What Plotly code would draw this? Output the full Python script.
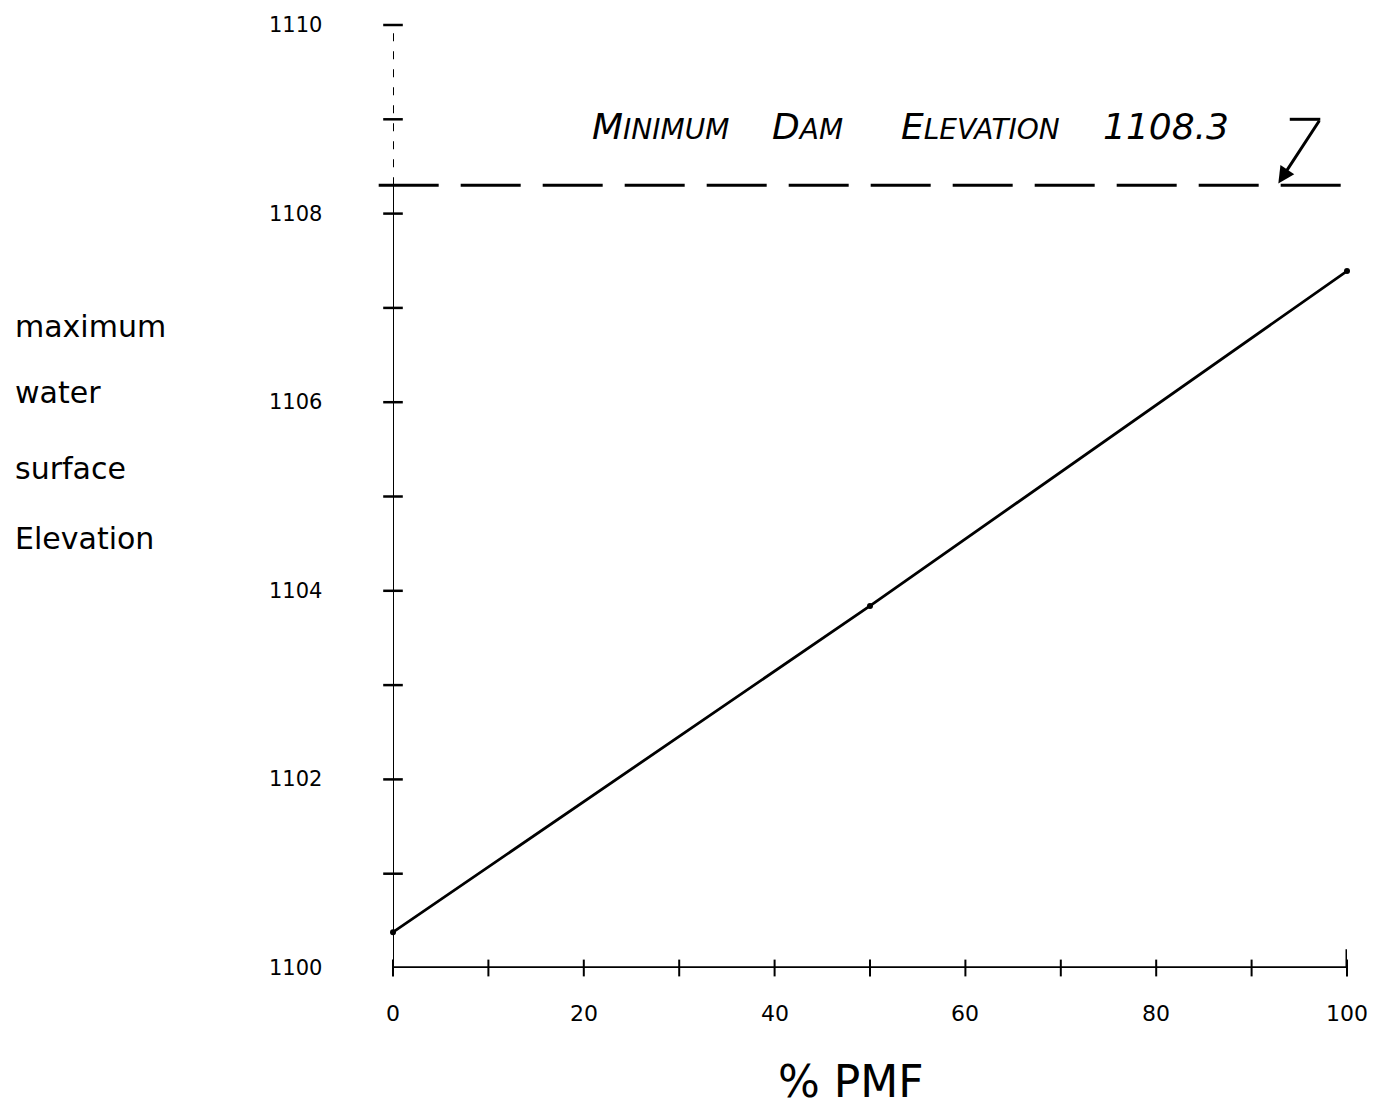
import plotly.graph_objects as go

# Data
pmf_pct = [0, 50, 100]
max_elev = [1100.38, 1103.84, 1107.39]
dam_elev = 1108.3
x_ticks = [0, 10, 20, 30, 40, 50, 60, 70, 80, 90, 100]
x_labels = [0, 20, 40, 60, 80, 100]
y_ticks = [1101, 1102, 1103, 1104, 1105, 1106, 1107, 1108, 1109, 1110]
y_labels = [1100, 1102, 1104, 1106, 1108, 1110]
y_title_words = ["maximum", "water", "surface", "Elevation"]

FONT = "DejaVu Sans"
fig = go.Figure()

# main curve
fig.add_trace(go.Scatter(x=pmf_pct, y=max_elev, mode="lines+markers",
                         line=dict(color="black", width=2.8),
                         marker=dict(color="black", size=6),
                         cliponaxis=False, showlegend=False))
# x tick crosses
fig.add_trace(go.Scatter(x=x_ticks, y=[1100] * len(x_ticks), mode="markers",
                         marker=dict(symbol="line-ns-open", size=12, color="black",
                                     line=dict(color="black", width=2)),
                         cliponaxis=False, showlegend=False, hoverinfo="skip"))
# y tick crosses
fig.add_trace(go.Scatter(x=[0] * len(y_ticks), y=y_ticks, mode="markers",
                         marker=dict(symbol="line-ew-open", size=14, color="black",
                                     line=dict(color="black", width=2.5)),
                         cliponaxis=False, showlegend=False, hoverinfo="skip"))

shapes = []
shapes.append(dict(type="line", x0=0, x1=100, y0=1100, y1=1100, xref="x", yref="y",
                   line=dict(color="black", width=3.5)))
shapes.append(dict(type="line", x0=100, x1=100, y0=1099.8, y1=1100.2, xref="x", yref="y",
                   line=dict(color="black", width=3)))
shapes.append(dict(type="line", x0=0, x1=0, y0=1100, y1=dam_elev, xref="x", yref="y",
                   line=dict(color="black", width=2)))
shapes.append(dict(type="line", x0=0, x1=0, y0=dam_elev, y1=1110, xref="x", yref="y",
                   line=dict(color="black", width=2, dash="8px,10px")))
shapes.append(dict(type="line", x0=-0.015, x1=1.013, y0=dam_elev, y1=dam_elev,
                   xref="paper", yref="y",
                   line=dict(color="black", width=3, dash="60px,22px")))
shapes.append(dict(type="line", x0=94.0, x1=97.2, y0=1109.0, y1=1109.0, xref="x", yref="y",
                   line=dict(color="black", width=3)))

annotations = []
for v in y_labels:
    annotations.append(dict(x=-0.072, y=v, xref="paper", yref="y", text=str(v),
                            showarrow=False, xanchor="right", yanchor="middle",
                            font=dict(family=FONT, size=21, color="black")))
for v in x_labels:
    annotations.append(dict(x=v, y=-0.048, xref="x", yref="paper", text=str(v),
                            showarrow=False, xanchor="center", yanchor="middle",
                            font=dict(family=FONT, size=22, color="black")))
annotations.append(dict(x=0.48, y=-0.12, xref="paper", yref="paper", text="% PMF",
                        showarrow=False, xanchor="center", yanchor="middle",
                        font=dict(family=FONT, size=44, color="black")))
for word, yp in zip(y_title_words, [0.68, 0.61, 0.53, 0.455]):
    annotations.append(dict(x=-0.398, y=yp, xref="paper", yref="paper", text=word,
                            showarrow=False, xanchor="left", yanchor="middle",
                            font=dict(family=FONT, size=30, color="black")))

SC = "<span style='font-size:28px'>{}</span>"
title_parts = [
    ("M" + SC.format("INIMUM"), 0.206),
    ("D" + SC.format("AM"), 0.395),
    ("E" + SC.format("LEVATION"), 0.530),
    ("1108.3", 0.742),
]
for txt, xp in title_parts:
    annotations.append(dict(x=xp, y=1108.92, xref="paper", yref="y", text=txt,
                            showarrow=False, xanchor="left", yanchor="middle",
                            font=dict(family=FONT, size=36, color="black", style="italic")))
annotations.append(dict(x=92.8, y=dam_elev + 0.02, xref="x", yref="y",
                        ax=97.2, ay=1109.0, axref="x", ayref="y", text="",
                        showarrow=True, arrowhead=2, arrowsize=1.1, arrowwidth=3,
                        arrowcolor="black"))

fig.update_layout(
    width=1389, height=1116,
    margin=dict(l=385, r=50, t=17, b=156),
    paper_bgcolor="white", plot_bgcolor="white",
    xaxis=dict(range=[0, 100], showgrid=False, zeroline=False, showline=False,
               showticklabels=False, ticks=""),
    yaxis=dict(range=[1100, 1110], showgrid=False, zeroline=False, showline=False,
               showticklabels=False, ticks=""),
    shapes=shapes, annotations=annotations,
)

fig.write_html("out.html")
